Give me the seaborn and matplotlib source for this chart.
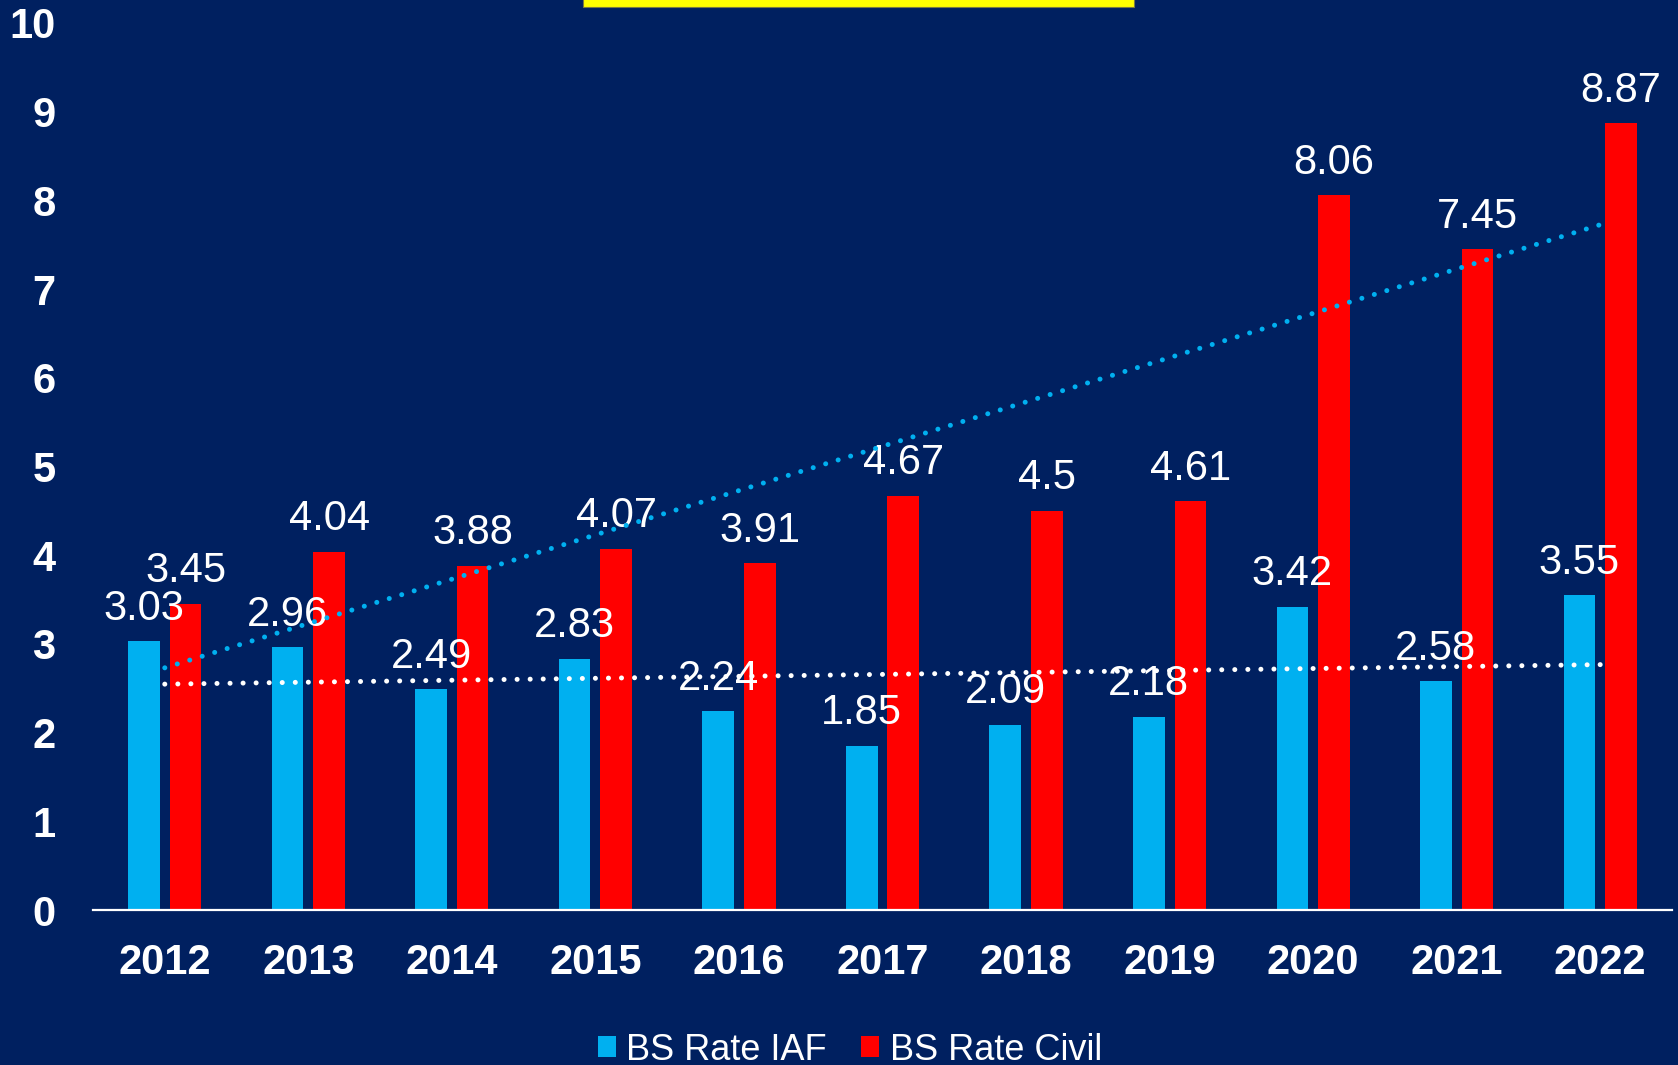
import numpy as np
import pandas as pd
import matplotlib
matplotlib.use('Agg')
import matplotlib.pyplot as plt
from matplotlib.patches import Patch, Rectangle
import seaborn as sns

years = ['2012', '2013', '2014', '2015', '2016', '2017', '2018', '2019', '2020', '2021', '2022']
iaf_rate = [3.03, 2.96, 2.49, 2.83, 2.24, 1.85, 2.09, 2.18, 3.42, 2.58, 3.55]
civil_rate = [3.45, 4.04, 3.88, 4.07, 3.91, 4.67, 4.5, 4.61, 8.06, 7.45, 8.87]
series_names = ['BS Rate IAF', 'BS Rate Civil']

BG = '#002060'
CYAN = '#00B0F0'
RED = '#FF0000'

df = pd.DataFrame({
    'year': years * 2,
    'rate': iaf_rate + civil_rate,
    'series': [series_names[0]] * len(years) + [series_names[1]] * len(years),
})

sns.set_theme(style='white')
plt.rcParams['font.family'] = ['Liberation Sans', 'DejaVu Sans']

fig = plt.figure(figsize=(16.78, 10.65), dpi=100, facecolor=BG)
ax = fig.add_axes([93 / 1678, 1 - 910 / 1065, (1672 - 93) / 1678, (910 - 23) / 1065])
ax.set_facecolor(BG)

sns.barplot(data=df, x='year', y='rate', hue='series', palette=[CYAN, RED],
            width=0.58, gap=0.24, saturation=1, legend=False, ax=ax,
            edgecolor='none', linewidth=0)

for cont in ax.containers:
    ax.bar_label(cont, labels=[f'{v:g}' for v in cont.datavalues], padding=9,
                 fontsize=30, color='white')

# linear trend lines (Excel style)
xs = np.arange(len(years))
fit_civil = np.polyfit(xs, civil_rate, 1)
fit_iaf = np.polyfit(xs, iaf_rate, 1)
xt = np.array([0, len(years) - 1])
ax.plot(xt, np.polyval(fit_civil, xt), color=CYAN, lw=3.6,
        linestyle=(0, (0.01, 2.6)), dash_capstyle='round', zorder=3)
ax.plot(xt, np.polyval(fit_iaf, xt), color='white', lw=3.6,
        linestyle=(0, (0.01, 2.6)), dash_capstyle='round', zorder=3)

ax.set_xlim(-0.5, len(years) - 0.5)
ax.set_ylim(0, 10)
ax.set_yticks(range(0, 11))
ax.set_xlabel('')
ax.set_ylabel('')
for s in ['top', 'right', 'left']:
    ax.spines[s].set_visible(False)
ax.spines['bottom'].set_color('white')
ax.spines['bottom'].set_linewidth(1.6)
ax.tick_params(axis='both', length=0, colors='white', labelsize=30)
ax.tick_params(axis='y', pad=27)
ax.tick_params(axis='x', pad=24)
for lab in ax.get_xticklabels() + ax.get_yticklabels():
    lab.set_fontweight('bold')

handles = [Patch(facecolor=CYAN, edgecolor='none'), Patch(facecolor=RED, edgecolor='none')]
fig.legend(handles, series_names, loc='center', bbox_to_anchor=(850 / 1678, 1 - 1050 / 1065),
           ncol=2, frameon=False, fontsize=26, labelcolor='white',
           handlelength=0.5, handleheight=0.5, handletextpad=0.3, columnspacing=0.95,
           borderpad=0)

# cut-off yellow title box at the top
fig.patches.append(Rectangle((583 / 1678, 1 - 6.7 / 1065), (1134 - 583) / 1678, 12 / 1065,
                             transform=fig.transFigure, facecolor='#FFFF00',
                             edgecolor='#7a7a40', lw=0.8))

fig.savefig('out.png', dpi=100, facecolor=BG)
